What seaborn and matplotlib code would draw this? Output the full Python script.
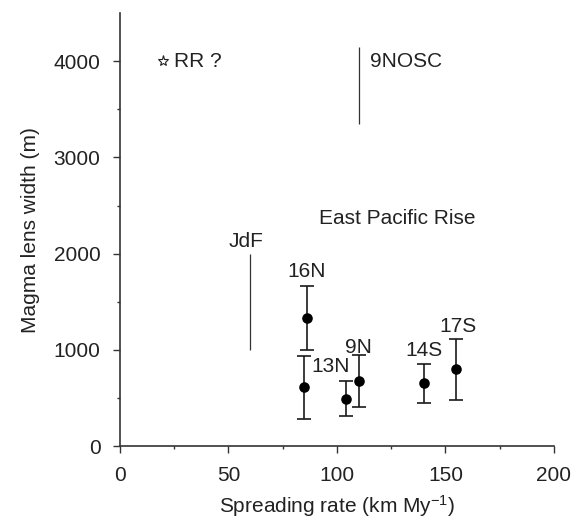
import numpy as np
import pandas as pd
import matplotlib
matplotlib.use("Agg")
import matplotlib.pyplot as plt
import seaborn as sns

# ridge segments with error bars
sites = ["16N", "16N", "13N", "9N", "14S", "17S"]
rate = [86, 85, 104, 110, 140, 155]
width = [1330, 611, 490, 677, 653, 799]
err = [335, 325, 182, 270, 205, 315]

# ranges drawn as plain vertical lines
range_names = ["JdF", "9NOSC"]
range_rate = [60, 110]
range_lo = [1000, 3350]
range_hi = [2000, 4150]

# Reykjanes Ridge (uncertain)
rr_rate = [20]
rr_width = [4000]

df = pd.DataFrame({"site": sites, "rate": rate, "width": width, "err": err})

sns.set_style("ticks")
plt.rcParams["font.family"] = ["Liberation Sans", "DejaVu Sans"]
plt.rcParams["mathtext.fontset"] = "custom"
plt.rcParams["mathtext.rm"] = "Liberation Sans"
plt.rcParams["mathtext.it"] = "Liberation Sans:italic"

txt = "#222222"
fig = plt.figure(figsize=(5.77, 5.23), dpi=100)
ax = fig.add_axes([0.208, 0.147, 0.752, 0.828])

ax.errorbar(df.rate, df.width, yerr=df.err, fmt="none", ecolor="#1a1a1a",
            elinewidth=1.2, capsize=5, capthick=1.2, zorder=2)
sns.scatterplot(data=df, x="rate", y="width", color="black", s=58,
                edgecolor="black", linewidth=0, ax=ax, zorder=3, legend=False)

ax.vlines(range_rate, range_lo, range_hi, color="#333333", linewidth=0.9)
ax.plot(rr_rate, rr_width, marker="*", markersize=8, markerfacecolor="white",
        markeredgecolor="#222222", markeredgewidth=0.8, linestyle="none")

fs = 15
ax.text(25, 4000, "RR ?", fontsize=fs, color=txt, ha="left", va="center")
ax.text(115.3, 4000, "9NOSC", fontsize=fs, color=txt, ha="left", va="center")
ax.text(58, 2130, "JdF", fontsize=fs, color=txt, ha="center", va="center")
ax.text(127.8, 2365, "East Pacific Rise", fontsize=fs, color=txt, ha="center", va="center")

lab_names = ["16N", "13N", "9N", "14S", "17S"]
lab_x = [86, 97, 110, 140, 155.6]
lab_y = [1810, 824, 1020, 993, 1242]
for n, x, y in zip(lab_names, lab_x, lab_y):
    ax.text(x, y, n, fontsize=fs, color=txt, ha="center", va="center")

ax.set_xlim(0, 200)
ax.set_ylim(0, 4500)
ax.set_xticks([0, 50, 100, 150, 200])
ax.set_xticks(np.arange(25, 200, 50), minor=True)
ax.set_yticks([0, 1000, 2000, 3000, 4000])
ax.set_yticks(np.arange(500, 4500, 1000), minor=True)
ax.tick_params(which="major", length=5, width=1, color="#333333",
               labelsize=fs, labelcolor=txt, direction="out")
ax.tick_params(which="minor", length=2.5, width=1, color="#333333", direction="out")
ax.tick_params(axis="x", which="major", pad=9.5)
ax.tick_params(axis="y", which="major", pad=9)
for side in ["left", "bottom"]:
    ax.spines[side].set_color("#333333")
    ax.spines[side].set_linewidth(1.2)
sns.despine(ax=ax)

ax.set_xlabel("Spreading rate (km My$^{-1}$)", fontsize=fs, color=txt, labelpad=6)
ax.set_ylabel("Magma lens width (m)", fontsize=fs, color=txt, labelpad=10)

fig.savefig("out.png", dpi=100)
